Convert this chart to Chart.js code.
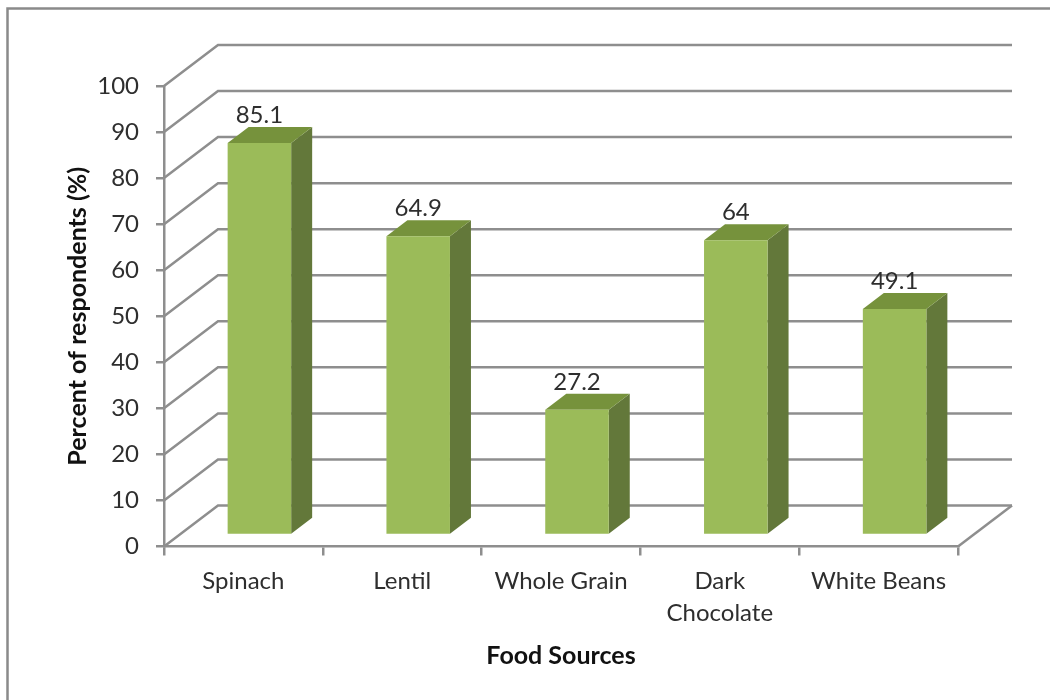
<!DOCTYPE html>
<html>
<head>
<meta charset="utf-8">
<style>
  html, body { margin: 0; padding: 0; background: #fff; }
  canvas { display: block; }
</style>
<script src="https://cdn.jsdelivr.net/npm/chart.js@4/dist/chart.umd.min.js"></script>
</head>
<body>
<canvas id="c" width="1050" height="700"></canvas>
<script>
const categories = ['Spinach', 'Lentil', 'Whole Grain', ['Dark', 'Chocolate'], 'White Beans'];
const percentRespondents = [85.1, 64.9, 27.2, 64, 49.1];
const valueLabels = ['85.1', '64.9', '27.2', '64', '49.1'];
const axisMin = 0, axisMax = 100, axisStep = 10;

const FACE = '#9BBB59', TOP = '#76923C', SIDE = '#63783A', GRID = '#8E8E8E', INK = '#2E2E2E';
const FONT = 'Lato';
const WALL = { dx: 54, dy: -41 };        // depth of the back wall
const BAR_FRONT = { dx: 16, dy: -11.5 }; // front face of each column inside the floor
const BAR_DEPTH = { dx: 21, dy: -16 };   // depth of each column

// Frame around the figure
const framePlugin = {
  id: 'frame',
  beforeDraw(chart) {
    const { ctx } = chart;
    ctx.save();
    ctx.strokeStyle = '#8A8A8A';
    ctx.lineWidth = 2.5;
    ctx.strokeRect(7.5, 8.5, 1100, 800);
    ctx.restore();
  }
};

// Back wall, side wall and floor lines, placed from the value scale
const wallPlugin = {
  id: 'wall',
  beforeDatasetsDraw(chart) {
    const { ctx, scales: { y }, chartArea: a } = chart;
    ctx.save();
    ctx.strokeStyle = GRID;
    ctx.lineWidth = 2.5;
    y.ticks.forEach(t => {
      const py = y.getPixelForValue(t.value);
      ctx.beginPath();
      ctx.moveTo(a.left, py);
      ctx.lineTo(a.left + WALL.dx, py + WALL.dy);
      ctx.lineTo(a.right + WALL.dx, py + WALL.dy);
      ctx.stroke();
    });
    const py0 = y.getPixelForValue(axisMin);
    ctx.beginPath();
    ctx.moveTo(a.right + WALL.dx, py0 + WALL.dy);
    ctx.lineTo(a.right, py0);
    ctx.stroke();
    ctx.restore();
  }
};

// Shifts each column into the floor and draws its top and side faces behind the front face
const columnPlugin = {
  id: 'column',
  beforeDatasetDraw(chart, args) {
    const { ctx } = chart;
    const meta = chart.getDatasetMeta(args.index);
    ctx.save();
    ctx.translate(BAR_FRONT.dx, BAR_FRONT.dy);
    meta.data.forEach(bar => {
      const p = bar.getProps(['x', 'y', 'base', 'width']);
      const l = p.x - p.width / 2, r = p.x + p.width / 2;
      ctx.fillStyle = SIDE;
      ctx.beginPath();
      ctx.moveTo(r, p.y);
      ctx.lineTo(r + BAR_DEPTH.dx, p.y + BAR_DEPTH.dy);
      ctx.lineTo(r + BAR_DEPTH.dx, p.base + BAR_DEPTH.dy);
      ctx.lineTo(r, p.base);
      ctx.closePath();
      ctx.fill();
      ctx.fillStyle = TOP;
      ctx.beginPath();
      ctx.moveTo(l, p.y);
      ctx.lineTo(l + BAR_DEPTH.dx, p.y + BAR_DEPTH.dy);
      ctx.lineTo(r + BAR_DEPTH.dx, p.y + BAR_DEPTH.dy);
      ctx.lineTo(r, p.y);
      ctx.closePath();
      ctx.fill();
    });
  },
  afterDatasetDraw(chart, args) {
    const { ctx } = chart;
    ctx.restore();
    const meta = chart.getDatasetMeta(args.index);
    ctx.save();
    ctx.fillStyle = INK;
    ctx.font = '24px ' + FONT;
    ctx.textAlign = 'center';
    ctx.textBaseline = 'alphabetic';
    meta.data.forEach((bar, i) => {
      const p = bar.getProps(['x', 'y']);
      ctx.fillText(valueLabels[i], p.x + BAR_FRONT.dx, p.y + BAR_FRONT.dy - 20);
    });
    ctx.restore();
  }
};

new Chart(document.getElementById('c'), {
  type: 'bar',
  data: {
    labels: categories,
    datasets: [{
      data: percentRespondents,
      backgroundColor: FACE,
      borderWidth: 0,
      barPercentage: 0.4,
      categoryPercentage: 1
    }]
  },
  options: {
    responsive: false,
    animation: false,
    layout: { padding: { left: 0, top: 86, right: 92, bottom: 0 } },
    plugins: { legend: { display: false }, tooltip: { enabled: false } },
    scales: {
      x: {
        afterFit(s) { s.height = 153.5; },
        grid: { drawOnChartArea: false, drawTicks: true, tickLength: 9, color: GRID, lineWidth: 2.5 },
        border: { display: true, color: GRID, width: 2.5 },
        offset: true,
        ticks: {
          color: INK, maxRotation: 0, autoSkip: false, padding: 10,
          font: { family: FONT, size: 24, lineHeight: 1.33 }
        },
        title: {
          display: true, text: 'Food Sources', color: '#111',
          font: { family: FONT, size: 25, weight: 'bold' },
          padding: { top: 0, bottom: 29 }
        }
      },
      y: {
        min: axisMin, max: axisMax,
        afterFit(s) { s.width = 164; },
        grid: { drawOnChartArea: false, drawTicks: true, tickLength: 8, color: GRID, lineWidth: 2.5 },
        border: { display: true, color: GRID, width: 2.5 },
        ticks: {
          stepSize: axisStep, color: INK, padding: 17,
          font: { family: FONT, size: 24 }
        },
        title: {
          display: true, text: 'Percent of respondents (%)', color: '#111',
          font: { family: FONT, size: 25, weight: 'bold' },
          padding: { top: 63, bottom: 0 }
        }
      }
    }
  },
  plugins: [framePlugin, wallPlugin, columnPlugin]
});
</script>
</body>
</html>
